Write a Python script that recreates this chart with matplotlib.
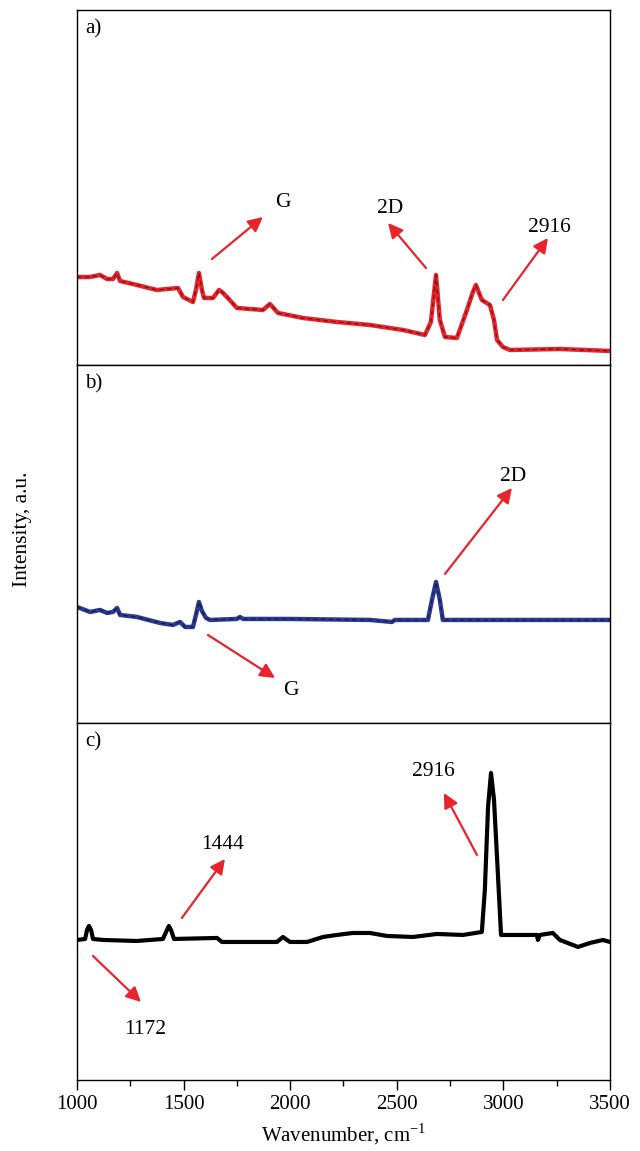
import numpy as np
import matplotlib.pyplot as plt
from matplotlib.ticker import MultipleLocator

plt.rcParams['font.family'] = ['Liberation Serif', 'DejaVu Serif']

# --- Spectre a) ---
wn_a = [1000, 1061, 1108, 1141, 1169, 1188, 1202, 1281, 1375, 1474, 1497, 1544,
        1558, 1572, 1586, 1596, 1638, 1666, 1680, 1708, 1750, 1872, 1905, 1943,
        2060, 2219, 2374, 2529, 2632, 2660, 2684, 2702, 2726, 2782, 2829, 2857,
        2871, 2899, 2937, 2956, 2970, 2998, 3031, 3265, 3500]
int_a = [88, 88, 90, 86, 86, 92, 84, 80, 75, 77, 68, 63,
         75, 92, 75, 67, 67, 75, 73, 67, 57, 55, 61, 52,
         47, 43, 40, 35, 30, 43, 90, 45, 28, 27, 55, 73,
         80, 65, 60, 45, 25, 18, 15, 16, 14]

# --- Spectre b) ---
wn_b = [1000, 1061, 1108, 1141, 1169, 1188, 1202, 1281, 1389, 1450, 1483, 1507,
        1544, 1558, 1572, 1586, 1605, 1624, 1750, 1764, 1779, 1999, 2374, 2477,
        2491, 2646, 2665, 2684, 2702, 2716, 3500]
int_b = [116, 111, 113, 110, 111, 115, 108, 106, 100, 98, 101, 96,
         96, 108, 121, 112, 105, 103, 104, 106, 104, 104, 103, 101,
         103, 103, 123, 141, 123, 103, 103]

# --- Spectre c) ---
wn_c = [1000, 1038, 1047, 1056, 1066, 1075, 1122, 1281, 1403, 1422, 1431, 1441,
        1455, 1657, 1680, 1938, 1966, 1999, 2079, 2154, 2219, 2294, 2374, 2454,
        2576, 2688, 2810, 2899, 2913, 2928, 2942, 2956, 2974, 2989, 3157, 3162,
        3171, 3232, 3265, 3326, 3350, 3406, 3467, 3500]
int_c = [140, 141, 150, 154, 150, 141, 140, 139, 141, 150, 154, 150,
         141, 142, 138, 138, 143, 138, 138, 143, 145, 147, 147, 144,
         143, 146, 145, 148, 190, 273, 307, 280, 207, 145, 145, 140,
         145, 147, 140, 135, 133, 137, 140, 138]

# annotations : (texte, queue, pointe, position du texte)
annot_a = [("G", (1633, 106), (1872, 148), (1966, 162)),
           ("2D", (2637, 97), (2459, 142), (2469, 156)),
           ("2916", (2998, 65), (3209, 127), (3218, 137))]
annot_b = [("2D", (2726, 149), (3040, 235), (3045, 246)),
           ("G", (1614, 88), (1929, 45), (2004, 32))]
annot_c = [("1444", (1492, 162), (1694, 221), (1685, 235)),
           ("1172", (1075, 124), (1300, 78), (1319, 50)),
           ("2916", (2876, 225), (2721, 287), (2670, 308))]

rouge = "#e8232b"
bleu = "#2c3990"

fig = plt.figure(figsize=(6.4, 11.51), dpi=100)
ax_a = fig.add_axes([0.1203, 0.6829, 0.8328, 0.3084])
ax_b = fig.add_axes([0.1203, 0.3719, 0.8328, 0.3110])
ax_c = fig.add_axes([0.1203, 0.0617, 0.8328, 0.3102])

panneaux = [
    (ax_a, wn_a, int_a, rouge, "a)", annot_a, 355),
    (ax_b, wn_b, int_b, bleu, "b)", annot_b, 358),
    (ax_c, wn_c, int_c, "black", "c)", annot_c, 357),
]

for ax, x, y, couleur, lettre, annots, ymax in panneaux:
    if couleur == "black":
        ax.plot(x, y, color="black", lw=3.0, solid_joinstyle="round")
    else:
        ax.plot(x, y, color=couleur, lw=3.2, solid_joinstyle="round")
        ax.plot(x, y, color="black", lw=0.8, alpha=0.55, dashes=(4, 3))
    ax.set_xlim(1000, 3500)
    ax.set_ylim(0, ymax)
    ax.set_yticks([])
    for sp in ax.spines.values():
        sp.set_linewidth(1.0)
    ax.text(0.015, 0.975, lettre, transform=ax.transAxes, fontsize=15,
            ha="left", va="top")
    for texte, queue, pointe, pos in annots:
        ax.annotate("", xy=pointe, xytext=queue,
                    arrowprops=dict(arrowstyle="-|>", color=rouge, lw=1.6,
                                    mutation_scale=22, shrinkA=0, shrinkB=0))
        ax.text(pos[0], pos[1], texte, fontsize=15.5, ha="center", va="center")

for ax in (ax_a, ax_b):
    ax.tick_params(axis="x", which="both", bottom=False, labelbottom=False)

ax_c.xaxis.set_major_locator(MultipleLocator(500))
ax_c.xaxis.set_minor_locator(MultipleLocator(250))
ax_c.tick_params(axis="x", which="major", direction="out", length=7, width=1,
                 labelsize=15, pad=4)
ax_c.tick_params(axis="x", which="minor", direction="out", length=4, width=1)
ax_c.set_xlabel(r"Wavenumber, cm$^{\mathregular{-1}}$", fontsize=15, labelpad=5)

fig.text(0.035, 0.54, "Intensity, a.u.", rotation=90, fontsize=15.5,
         ha="center", va="center")

fig.savefig("out.png", dpi=100)
